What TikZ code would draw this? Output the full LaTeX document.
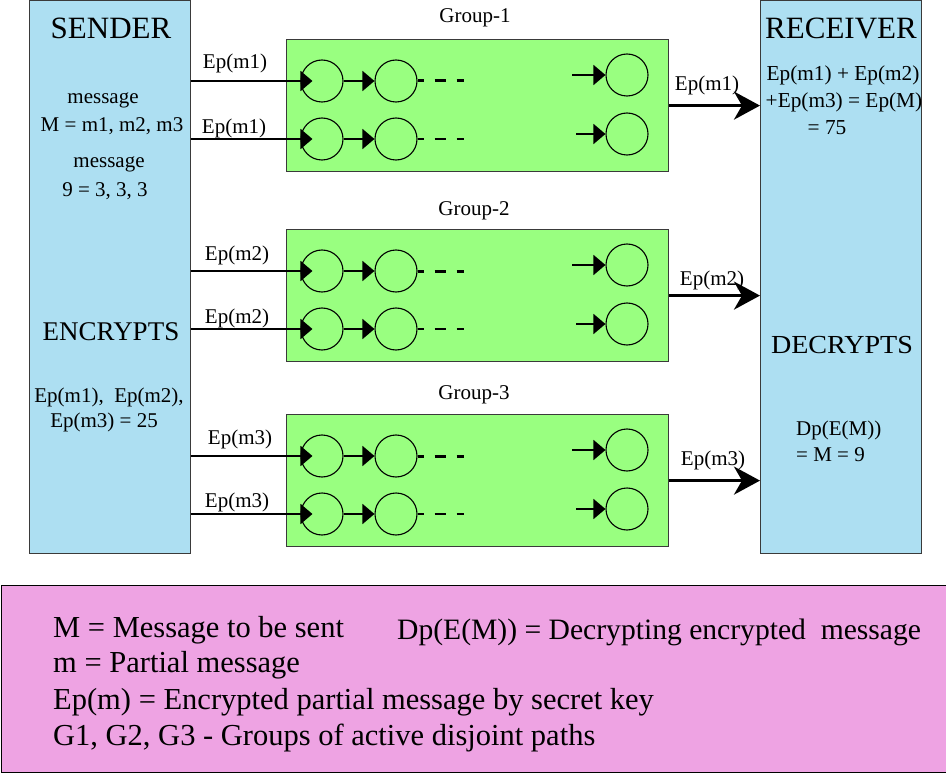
\documentclass[tikz,border=0pt]{standalone}
\usepackage{fontspec}
\setmainfont{Liberation Serif}
\usetikzlibrary{arrows.meta,calc}

\definecolor{panelblue}{HTML}{ADDFF2}
\definecolor{groupgreen}{HTML}{99FF80}
\definecolor{notepink}{HTML}{EEA3E3}
\definecolor{edgegray}{HTML}{3A3A3A}

\newcommand{\fsz}[1]{\fontsize{#1}{#1}\selectfont}

\tikzset{
  panel/.style={draw=edgegray, line width=1.2pt, fill=panelblue, inner sep=0pt, anchor=north west},
  groupbox/.style={draw=edgegray, line width=1.2pt, fill=groupgreen, inner sep=0pt, anchor=north west,
    minimum width=382pt, minimum height=132pt},
  hop/.style={circle, draw=black, line width=1.1pt, inner sep=0pt, minimum size=42pt},
  inarrow/.style={line width=2pt, -{Triangle[length=12pt, width=20pt]}},
  linkarrow/.style={line width=1.6pt, -{Triangle[length=12pt, width=20pt]}},
  outarrow/.style={line width=3.2pt, -{Stealth[length=26pt, width=28pt, inset=8pt]}},
  gap/.style={line width=3pt, dash pattern=on 6pt off 11pt on 11pt off 11pt on 7pt},
  small/.style={font=\fsz{21}, inner sep=0pt},
  rsmall/.style={font=\fsz{21.3}, inner sep=0pt},
  title/.style={font=\fsz{31}, inner sep=0pt},
  note/.style={font=\fsz{30.5}, inner sep=0pt, anchor=base west}
}

\begin{document}
\begin{tikzpicture}[x=1pt, y=-1pt]
\useasboundingbox (0,0) rectangle (946,773);

% sender and receiver panels
\node[panel, minimum width=161pt, minimum height=553pt] (sender) at (29,0) {};
\node[panel, minimum width=161pt, minimum height=553pt] (receiver) at (760,0) {};

% the three groups of disjoint paths
\node[groupbox] (g1) at (286,39) {};
\node[groupbox] (g2) at (286,229) {};
\node[groupbox] (g3) at (286,414) {};

\node[small] (g1lbl) at (475,18) {Group-1};
\node[small] (g2lbl) at (474,211) {Group-2};
\node[small] (g3lbl) at (474,395) {Group-3};

% nodes on each path: two at the start, one at the end
\foreach \g/\t in {1/39, 2/229, 3/414} {
  \node[hop] (c\g a1) at (322,\t+42) {};
  \node[hop] (c\g a2) at (396,\t+42) {};
  \node[hop] (c\g a3) at (627,\t+36) {};
  \node[hop] (c\g b1) at (322,\t+100) {};
  \node[hop] (c\g b2) at (396,\t+100) {};
  \node[hop] (c\g b3) at (627,\t+95) {};
  % paths entering from the sender
  \draw[inarrow] (c\g a1.center -| sender.east) -- ($(c\g a1.west)+(12,0)$);
  \draw[inarrow] (c\g b1.center -| sender.east) -- ($(c\g b1.west)+(12,0)$);
  % hops along each path
  \draw[linkarrow] (c\g a1.east) -- (c\g a2.west);
  \draw[linkarrow] (c\g b1.east) -- (c\g b2.west);
  \draw[gap] (c\g a2.east) -- ++(46,0);
  \draw[gap, line width=2.6pt] (c\g b2.east) -- ++(46,0);
  \coordinate (e\g a) at ($(c\g a3.west)+(-33,0)$);
  \coordinate (e\g b) at ($(c\g b3.west)+(-29,0)$);
  \draw[linkarrow] (e\g a) -- (c\g a3.west);
  \draw[linkarrow] (e\g b) -- (c\g b3.west);
  % group output to the receiver
  \draw[outarrow] (g\g.east) -- (g\g.east -| receiver.west);
}

% labels on the incoming paths
\node[small] (in1a) at (235,63) {Ep(m1)};
\node[small] (in1b) at (234,128) {Ep(m1)};
\node[small] (in2a) at (237,255) {Ep(m2)};
\node[small] (in2b) at (237,318) {Ep(m2)};
\node[small] (in3a) at (240,439) {Ep(m3)};
\node[small] (in3b) at (237,502) {Ep(m3)};

% labels on the outgoing paths
\node[small] (out1) at (707,85) {Ep(m1)};
\node[small] (out2) at (712,280) {Ep(m2)};
\node[small] (out3) at (713,460) {Ep(m3)};

% sender text
\node[title] (sendt) at (111,28) {SENDER};
\node[small] (s1) at (103,100) {message};
\node[small] (s2) at (112,126) {M = m1, m2, m3};
\node[small] (s3) at (109,164) {message};
\node[small] (s4) at (105,191) {9 = 3, 3, 3};
\node[font=\fsz{27}, inner sep=0pt] (enc) at (111,332) {ENCRYPTS};
\node[small] (s5) at (109,397) {Ep(m1),\ \ Ep(m2),};
\node[small] (s6) at (104,422) {Ep(m3) = 25};

% receiver text
\node[title] (recvt) at (841,28) {RECEIVER};
\node[rsmall] (r1) at (843,75) {Ep(m1) + Ep(m2)};
\node[rsmall] (r2) at (844,102) {+Ep(m3) = Ep(M)};
\node[rsmall] (r3) at (827,128) {= 75};
\node[font=\fsz{26}, inner sep=0pt, xscale=1.08] (dec) at (842,345) {DECRYPTS};
\node[small, anchor=west] (r4) at (796,430) {Dp(E(M))};
\node[small, anchor=west] (r5) at (796,455) {= M = 9};

% legend
\node[draw=black, line width=1.2pt, fill=notepink, inner sep=0pt, anchor=north west,
  minimum width=945pt, minimum height=187pt] (legend) at (0.6,585) {};
\node[note] (n1) at (53,637) {M = Message to be sent};
\node[note, font=\fsz{29.6}] (n2) at (397,639) {Dp(E(M)) = Decrypting encrypted\ \ message};
\node[note] (n3) at (53,672) {m = Partial message};
\node[note] (n4) at (53,709) {Ep(m) = Encrypted partial message by secret key};
\node[note] (n5) at (53,745) {G1, G2, G3 - Groups of active disjoint paths};
\end{tikzpicture}
\end{document}
